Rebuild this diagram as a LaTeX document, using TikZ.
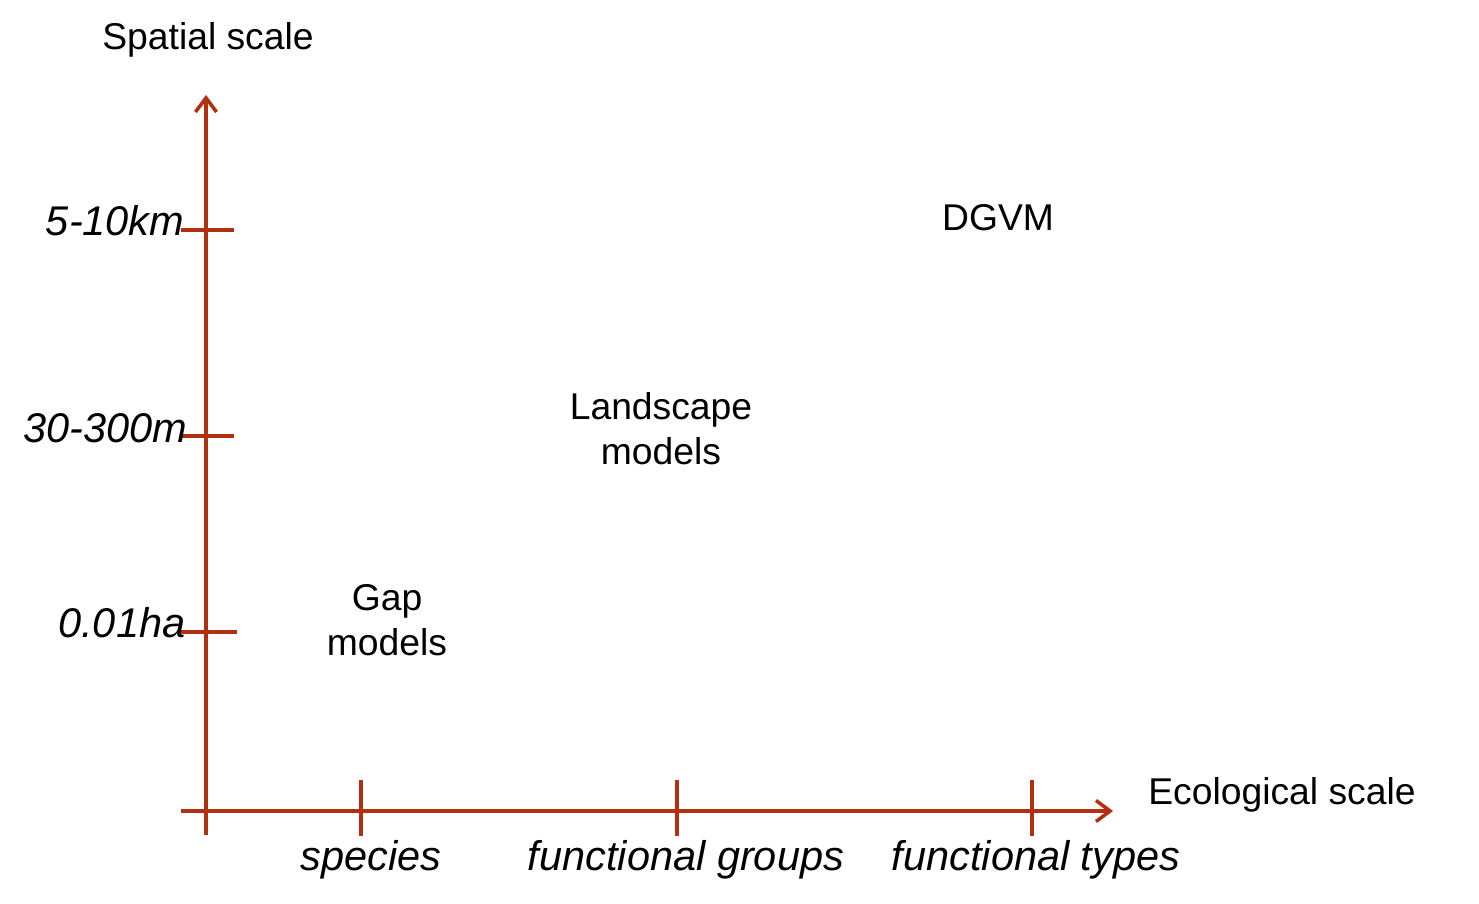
\documentclass[tikz,border=0pt]{standalone}
\usepackage{fontspec}
\setmainfont{Liberation Sans}
\usetikzlibrary{arrows.meta}
\definecolor{axisred}{HTML}{B0300F}
\tikzset{
  axis/.style={draw=axisred, line width=1pt},
  axisarrow/.style={axis, -{Straight Barb[length=4pt,width=6pt,line width=1pt]}},
  tick/.style={draw=axisred, line width=1pt},
  lab/.style={font=\fontsize{10.6}{12.8}\selectfont, align=center, inner sep=0pt},
  ilab/.style={font=\fontsize{11.8}{14}\selectfont\itshape, inner sep=0pt},
}
\begin{document}
\begin{tikzpicture}[x=0.01cm,y=-0.01cm]
\useasboundingbox (0,0) rectangle (1479,904);
% axes coordinates
\coordinate (vbot) at (206,835);
\coordinate (vtop) at (206,95);
\coordinate (hleft) at (181,811);
\coordinate (hright) at (1113,811);
\draw[axisarrow] (vbot) -- (vtop);
\draw[axisarrow] (hleft) -- (hright);
% y ticks
\foreach \n/\y/\r in {a/230/234,b/436/234,c/632/237}{
  \coordinate (yt\n l) at (181,\y);
  \coordinate (yt\n r) at (\r,\y);
  \draw[tick] (yt\n l) -- (yt\n r);
}
% x ticks
\foreach \n/\x in {a/361,b/677,c/1032}{
  \coordinate (xt\n t) at (\x,780);
  \coordinate (xt\n b) at (\x,836);
  \draw[tick] (xt\n t) -- (xt\n b);
}
% y labels
\node[ilab, anchor=east] (l1) at (185,221) {5-10km};
\node[ilab, anchor=east] (l2) at (188,428) {30-300m};
\node[ilab, anchor=east] (l3) at (186,623) {0.01ha};
% x labels
\node[ilab] (s1) at (371,860) {species};
\node[ilab] (s2) at (686,860) {functional groups};
\node[ilab] (s3) at (1036,860) {functional types};
% axis titles
\node[lab] (ytitle) at (208,40) {Spatial scale};
\node[lab] (xtitle) at (1282,795) {Ecological scale};
% models
\node[lab] (gap) at (387,620) {Gap\\models};
\node[lab] (land) at (661,429) {Landscape\\models};
\node[lab] (dgvm) at (998,218) {DGVM};
\end{tikzpicture}
\end{document}
